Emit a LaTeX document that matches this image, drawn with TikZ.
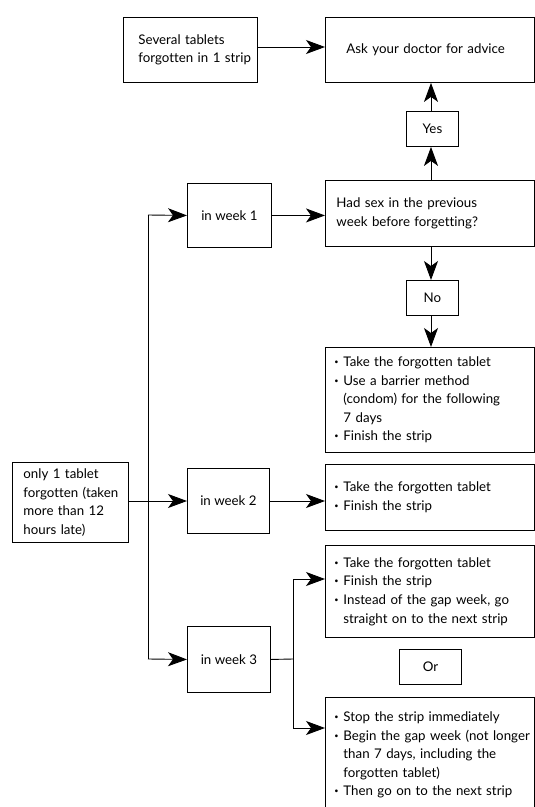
\documentclass[tikz,border=0pt]{standalone}
\usepackage{fontspec}
\setmainfont{Lato}[Ligatures=NoCommon]
\usepackage{graphicx}
\usetikzlibrary{arrows.meta}
\newcommand{\bl}{\makebox[10pt][l]{\hspace*{1pt}\raisebox{0.3ex}{\scalebox{0.55}{\textbullet}}}}
\newcommand{\ind}{\hspace*{10pt}}
\begin{document}
\begin{tikzpicture}[x=1pt,y=-1pt,
  every node/.style={font=\fontsize{13.3pt}{18.6pt}\selectfont},
  box/.style={draw=black, line width=0.9pt, anchor=north west, inner ysep=0pt, align=left},
  cbox/.style={draw=black, line width=0.9pt, anchor=north west, inner sep=0pt, align=center},
  arr/.style={line width=0.9pt, -{Stealth[length=19pt,width=14pt,inset=5pt]}},
  ln/.style={line width=0.9pt}]
\useasboundingbox (0,0) rectangle (535,807);
% boxes
\node[box, minimum width=134pt, minimum height=65pt, inner xsep=15pt, text width=104pt] (sev) at (123,17) {\mbox{Several tablets}\\[-0.5pt]\mbox{forgotten in 1 strip}};
\node[box, minimum width=209pt, minimum height=65pt, inner xsep=21pt, text width=167pt] (ask) at (325,17) {Ask your doctor for advice};
\node[cbox, minimum width=52pt, minimum height=35pt] (yes) at (406,111) {Yes};
\node[box, minimum width=209pt, minimum height=66pt, inner xsep=11pt, text width=187pt] (had) at (325,180) {Had sex in the previous\\week before forgetting?};
\node[cbox, minimum width=84pt, minimum height=64pt] (w1) at (187,183) {in week 1};
\node[cbox, minimum width=52pt, minimum height=35pt] (no) at (406,280) {No};
\node[box, minimum width=209pt, minimum height=105pt, inner xsep=8pt, text width=193pt] (b1) at (325,347) {\bl Take the forgotten tablet\\\bl Use a barrier method\\\ind(condom) for the following\\\ind 7 days\\\bl Finish the strip};
\node[box, minimum width=116pt, minimum height=80pt, inner xsep=11pt, text width=94pt] (only) at (12,462) {\mbox{only 1 tablet}\\\mbox{forgotten (taken}\\\mbox{more than 12}\\\mbox{hours late)}};
\node[cbox, minimum width=82pt, minimum height=65pt] (w2) at (187,468) {in week 2};
\node[box, minimum width=209pt, minimum height=66pt, inner xsep=8pt, text width=193pt] (b2) at (325,464) {\bl Take the forgotten tablet\\\bl Finish the strip};
\node[box, minimum width=209pt, minimum height=92pt, inner xsep=8pt, text width=193pt] (b3) at (325,545) {\bl Take the forgotten tablet\\\bl Finish the strip\\\bl Instead of the gap week, go\\\ind straight on to the next strip};
\node[cbox, minimum width=83pt, minimum height=66pt] (w3) at (187,626) {in week 3};
\node[cbox, minimum width=62pt, minimum height=35pt] (or) at (399,649) {Or};
\node[box, minimum width=209pt, minimum height=115pt, inner xsep=8pt, text width=193pt] (b4) at (325,697) {\bl Stop the strip immediately\\\bl \mbox{Begin the gap week (not longer}\\\ind than 7 days, including the\\\ind forgotten tablet)\\\bl Then go on to the next strip};
% connector points
\coordinate (tr1) at (148,215);
\coordinate (tr3) at (148,659);
\coordinate (br) at (293,659);
\coordinate (b3in) at (325,579);
\coordinate (b4in) at (325,728);
% connectors
\draw[arr] (sev.east |- 0,47) -- (ask.west |- 0,47);
\draw[arr] (had.north -| 431,0) -- (yes.south -| 431,0);
\draw[arr] (yes.north -| 431,0) -- (ask.south -| 431,0);
\draw[arr] (had.south -| 431,0) -- (no.north -| 431,0);
\draw[arr] (no.south -| 431,0) -- (b1.north -| 431,0);
\draw[arr] (w1.east) -- (w1.east -| had.west);
\draw[ln] (tr1) -- (tr3);
\draw[arr] (tr1) -- (w1.west);
\draw[arr] (tr3) -- (w3.west);
\draw[arr] (only.east |- 0,501) -- (w2.west |- 0,501);
\draw[arr] (w2.east |- 0,501) -- (b2.west |- 0,501);
\draw[ln] (w3.east) -- (br);
\draw[arr] (br) |- (b3in);
\draw[arr] (br) |- (b4in);
\end{tikzpicture}
\end{document}
